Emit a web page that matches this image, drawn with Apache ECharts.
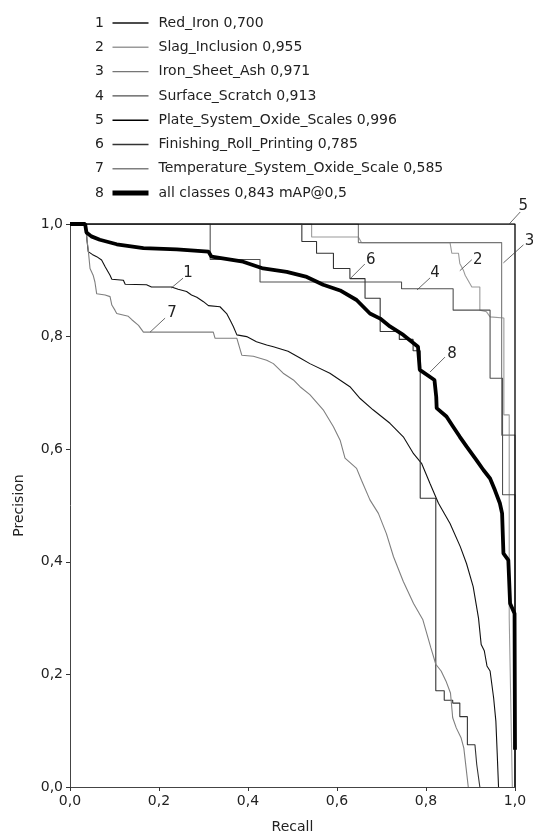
<!DOCTYPE html>
<html>
<head>
<meta charset="utf-8">
<script src="https://cdn.jsdelivr.net/npm/echarts@6/dist/echarts.min.js"></script>
<style>
html, body { margin: 0; padding: 0; background: #fff; }
#chart { width: 533px; height: 832px; }
</style>
</head>
<body>
<div id="chart"></div>
<script>
// legend names (class + AP@0.5) and curve numbers
var classNames = [
    'Red_Iron 0,700',
    'Slag_Inclusion 0,955',
    'Iron_Sheet_Ash 0,971',
    'Surface_Scratch 0,913',
    'Plate_System_Oxide_Scales 0,996',
    'Finishing_Roll_Printing 0,785',
    'Temperature_System_Oxide_Scale 0,585',
    'all classes 0,843 mAP@0,5'
];
var curveNumbers = ['1', '2', '3', '4', '5', '6', '7', '8'];
var axisTicks = [0, 0.2, 0.4, 0.6, 0.8, 1.0];

// [recall, precision] points
var redIron = [[0,1],[0.036,1],[0.038,0.972],[0.041,0.951],[0.050,0.946],[0.060,0.942],[0.071,0.936],[0.079,0.924],
    [0.090,0.909],[0.094,0.902],[0.120,0.900],[0.124,0.893],[0.172,0.892],[0.183,0.888],[0.228,0.888],[0.243,0.884],
    [0.262,0.880],[0.273,0.874],[0.285,0.870],[0.300,0.862],[0.311,0.855],[0.337,0.853],[0.352,0.841],[0.360,0.829],
    [0.367,0.818],[0.375,0.803],[0.397,0.800],[0.419,0.791],[0.442,0.785],[0.457,0.782],[0.490,0.774],[0.517,0.762],
    [0.539,0.752],[0.584,0.735],[0.629,0.711],[0.652,0.690],[0.681,0.670],[0.719,0.646],[0.749,0.622],[0.772,0.592],
    [0.790,0.575],[0.809,0.539],[0.828,0.504],[0.854,0.468],[0.877,0.427],[0.891,0.397],[0.906,0.356],[0.918,0.300],
    [0.924,0.253],[0.931,0.242],[0.937,0.215],[0.944,0.206],[0.952,0.158],[0.957,0.117],[0.960,0.060],[0.963,0]];
var slagInclusion = [[0,1],[0.543,1],[0.543,0.977],[0.648,0.977],[0.655,0.967],[0.854,0.967],[0.858,0.948],[0.873,0.948],
    [0.876,0.930],[0.884,0.918],[0.888,0.909],[0.903,0.888],[0.921,0.888],[0.921,0.847],[0.936,0.844],[0.944,0.835],
    [0.975,0.833],[0.975,0.661],[0.987,0.661],[0.987,0.300],[0.994,0]];
var ironSheetAsh = [[0,1],[0.648,1],[0.648,0.967],[0.970,0.967],[0.970,0.625],[1.0,0.625],[1.0,0]];
var surfaceScratch = [[0,1],[0.315,1],[0.315,0.937],[0.427,0.937],[0.427,0.897],[0.745,0.897],[0.745,0.885],[0.861,0.885],
    [0.861,0.847],[0.944,0.847],[0.944,0.726],[0.972,0.726],[0.972,0.519],[1.0,0.519],[1.0,0]];
var plateOxide = [[0,1],[1.0,1],[1.0,0]];
var finishingRoll = [[0,1],[0.521,1],[0.521,0.969],[0.554,0.969],[0.554,0.948],[0.592,0.948],[0.592,0.921],[0.629,0.921],
    [0.629,0.903],[0.663,0.903],[0.663,0.868],[0.697,0.868],[0.697,0.809],[0.740,0.809],[0.740,0.795],[0.771,0.795],
    [0.771,0.775],[0.787,0.775],[0.787,0.513],[0.822,0.513],[0.822,0.171],[0.841,0.171],[0.841,0.154],[0.860,0.154],
    [0.860,0.149],[0.876,0.149],[0.876,0.125],[0.893,0.125],[0.893,0.075],[0.910,0.075],[0.914,0.040],[0.921,0]];
var temperatureOxide = [[0,1],[0.034,1],[0.041,0.954],[0.045,0.921],[0.052,0.909],[0.056,0.897],[0.060,0.876],[0.079,0.874],
    [0.090,0.871],[0.094,0.856],[0.101,0.847],[0.105,0.841],[0.131,0.836],[0.139,0.830],[0.154,0.820],[0.165,0.808],
    [0.322,0.808],[0.326,0.797],[0.375,0.797],[0.386,0.767],[0.412,0.765],[0.442,0.758],[0.457,0.752],[0.479,0.735],
    [0.502,0.723],[0.517,0.711],[0.539,0.697],[0.569,0.670],[0.592,0.640],[0.607,0.616],[0.618,0.584],[0.644,0.566],
    [0.655,0.545],[0.674,0.510],[0.693,0.486],[0.711,0.450],[0.727,0.409],[0.749,0.365],[0.772,0.326],[0.793,0.297],
    [0.811,0.247],[0.822,0.218],[0.834,0.206],[0.845,0.188],[0.855,0.167],[0.860,0.123],[0.868,0.105],[0.879,0.087],
    [0.885,0.069],[0.895,0]];
var allClasses = [[0,1],[0.034,1],[0.037,0.985],[0.048,0.978],[0.067,0.972],[0.105,0.964],[0.165,0.957],[0.240,0.955],
    [0.311,0.951],[0.318,0.942],[0.389,0.933],[0.434,0.921],[0.487,0.915],[0.532,0.906],[0.569,0.892],[0.607,0.882],
    [0.644,0.865],[0.674,0.841],[0.697,0.832],[0.719,0.818],[0.749,0.803],[0.782,0.782],[0.786,0.741],[0.819,0.723],
    [0.823,0.693],[0.824,0.673],[0.846,0.658],[0.861,0.640],[0.876,0.622],[0.891,0.605],[0.913,0.581],[0.929,0.563],
    [0.944,0.548],[0.955,0.527],[0.966,0.504],[0.971,0.486],[0.974,0.415],[0.985,0.403],[0.989,0.326],[0.999,0.308],
    [1.0,0.066]];

// where the numbered leader lines start, in [recall, precision]
var annoNumbers = ['1', '7', '6', '4', '2', '8', '3', '5'];
var annoAt = [[0.227,0.886],[0.180,0.808],[0.631,0.904],[0.780,0.883],[0.876,0.917],[0.809,0.737],[0.974,0.931],[0.987,1.0]];

var curves = [redIron, slagInclusion, ironSheetAsh, surfaceScratch, plateOxide, finishingRoll, temperatureOxide, allClasses];
var colors = ['#111111', '#9a9a9a', '#767676', '#505050', '#000000', '#333333', '#7f7f7f', '#000000'];
var widths = [1.1, 1.1, 1.1, 1.1, 1.3, 1.1, 1.1, 3.8];
var legendWidths = [1.6, 1.4, 1.4, 1.4, 1.6, 1.4, 1.4, 5];

var font = 'DejaVu Sans';
var chart = echarts.init(document.getElementById('chart'));

function fmt(v) {
    return v.toFixed(1).replace('.', ',');
}

var series = curves.map(function (data, i) {
    return {
        name: classNames[i],
        type: 'line',
        data: data,
        symbol: 'none',
        animation: false,
        lineStyle: { color: colors[i], width: widths[i] },
        itemStyle: { color: colors[i] },
        z: 2 + i
    };
});

var axisCommon = {
    type: 'value',
    min: 0,
    max: 1,
    interval: 0.2,
    nameLocation: 'middle',
    nameTextStyle: { fontFamily: font, fontSize: 14, color: '#222' },
    axisLine: { show: true, lineStyle: { color: '#444', width: 1 } },
    axisTick: { show: true, inside: false, length: 4, lineStyle: { color: '#333' } },
    axisLabel: { fontFamily: font, fontSize: 14, color: '#222', formatter: fmt },
    splitLine: { show: false }
};

chart.setOption({
    animation: false,
    backgroundColor: '#fff',
    grid: { left: 70, right: 18, top: 224, bottom: 45, outerBoundsMode: 'none' },
    legend: {
        orient: 'vertical',
        left: 110,
        top: 16,
        padding: 0,
        itemWidth: 36,
        itemHeight: 14,
        itemGap: 10.3,
        selectedMode: false,
        itemStyle: { opacity: 0 },
        textStyle: { fontFamily: font, fontSize: 14, lineHeight: 14, color: '#222', padding: [0, 0, 0, 5] },
        data: classNames.map(function (n, i) {
            return { name: n, lineStyle: { width: legendWidths[i] } };
        })
    },
    xAxis: echarts.util.merge({ name: 'Recall', nameGap: 33, axisLabel: { margin: 7 } }, axisCommon),
    yAxis: echarts.util.merge({ name: 'Precision', nameGap: 44, axisLabel: { margin: 7 } }, axisCommon),
    series: series
});

// legend numbers and the numbered leader lines on the curves
var graphics = [];
curveNumbers.forEach(function (n, i) {
    graphics.push({
        type: 'text',
        x: 104,
        y: 23 + 24.3 * i,
        style: { text: n, fontFamily: font, fontSize: 14, fill: '#222', align: 'right', verticalAlign: 'middle' }
    });
});
var leaderEnd = [[12,-10],[15,-14],[14,-14],[13,-12],[12,-11],[15,-15],[20,-18],[11,-12]];
var textAt = [[17,-15],[22,-19],[20,-18],[18,-17],[18,-11],[22,-18],[26,-22],[14,-18]];
annoNumbers.forEach(function (n, i) {
    var p = chart.convertToPixel({ gridIndex: 0 }, annoAt[i]);
    graphics.push({
        type: 'line',
        shape: { x1: p[0], y1: p[1], x2: p[0] + leaderEnd[i][0], y2: p[1] + leaderEnd[i][1] },
        style: { stroke: '#444', lineWidth: 0.8 },
        z: 20
    });
    graphics.push({
        type: 'text',
        x: p[0] + textAt[i][0],
        y: p[1] + textAt[i][1],
        style: { text: n, fontFamily: font, fontSize: 15, fill: '#222', align: 'center', verticalAlign: 'middle' },
        z: 20
    });
});
chart.setOption({ graphic: graphics });
</script>
</body>
</html>
